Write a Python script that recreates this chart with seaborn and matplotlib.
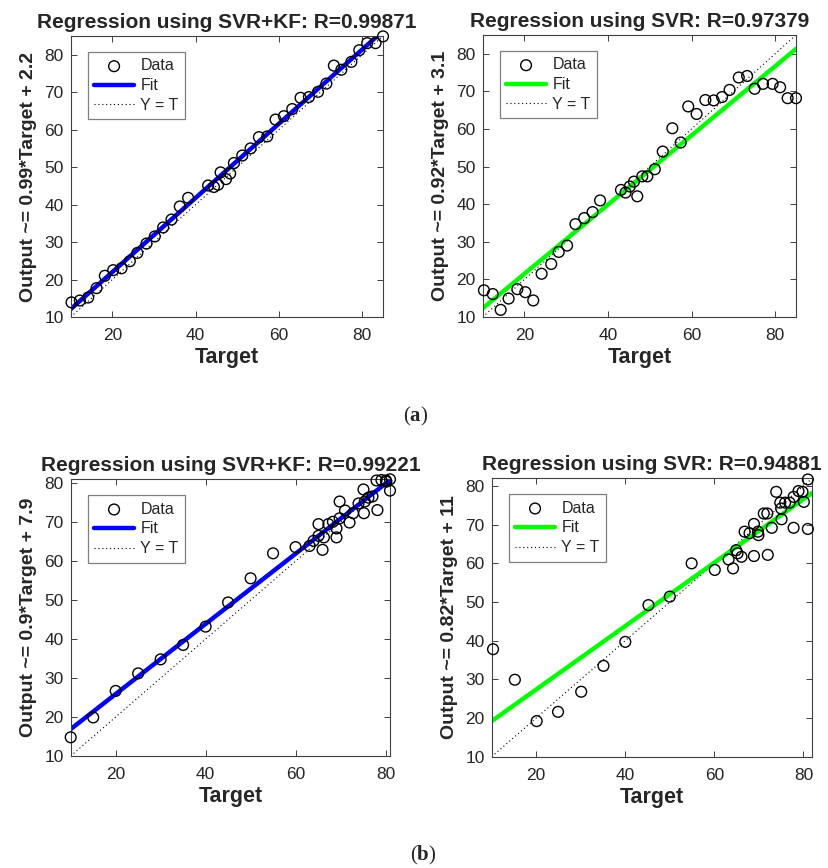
import numpy as np
import pandas as pd
import matplotlib
matplotlib.use('Agg')
import matplotlib.pyplot as plt
import seaborn as sns

# values
# (a) left: SVR+KF
a_kf_target = [10.2, 12.2, 14.2, 16.2, 18.2, 20.2, 22.2, 24.2, 26.0, 28.2, 30.2, 32.2, 34.2, 36.2,
               38.2, 43.0, 44.4, 45.4, 46.0, 47.3, 48.3, 49.2, 51.2, 53.2, 55.2, 57.2, 59.2, 61.2,
               63.2, 65.2, 67.2, 69.4, 71.4, 73.2, 75.0, 77.4, 79.3, 81.2, 83.2, 85.0]
a_kf_output = [13.9, 14.4, 15.2, 17.7, 21.0, 22.5, 23.0, 24.9, 27.1, 29.6, 31.5, 33.9, 36.0, 39.5,
               41.8, 45.1, 44.7, 45.3, 48.6, 46.8, 48.3, 51.1, 53.1, 55.0, 58.0, 58.2, 62.7, 63.6,
               65.5, 68.5, 68.7, 70.1, 72.3, 77.1, 76.0, 78.1, 81.2, 83.1, 83.1, 84.9]

# (a) right: SVR
a_svr_target = [10.3, 12.4, 14.3, 16.2, 18.3, 20.2, 22.1, 24.1, 26.4, 28.2, 30.2, 32.2, 34.3, 36.3,
                38.1, 43.1, 44.2, 45.2, 46.2, 47.0, 48.2, 49.4, 51.2, 53.1, 55.4, 57.4, 59.2, 61.2,
                63.3, 65.3, 67.3, 69.1, 71.3, 73.3, 75.1, 77.1, 79.4, 81.2, 83.0, 85.0]
a_svr_output = [17.1, 16.1, 11.9, 14.9, 17.4, 16.6, 14.4, 21.5, 24.1, 27.3, 29.0, 34.7, 36.3, 37.9,
                41.0, 43.8, 43.1, 44.7, 46.0, 42.1, 47.4, 47.4, 49.3, 54.0, 60.2, 56.4, 66.0, 64.0,
                67.7, 67.6, 68.5, 70.4, 73.7, 74.1, 70.7, 72.0, 72.0, 71.1, 68.2, 68.2]

# (b) left: SVR+KF
b_kf_target = [10, 15, 20, 25, 30, 35, 40, 45, 50, 55, 60, 63.1, 64.0, 65.1, 65.1, 66.0, 66.3, 67.3,
               68.3, 69.1, 69.1, 69.8, 69.8, 71.0, 72.0, 72.8, 74.0, 75.1, 75.2, 75.4, 76.2, 77.1,
               78.2, 78.0, 79.1, 80.1, 81.0, 81.0, 80.2]
b_kf_output = [14.8, 19.9, 26.7, 31.2, 34.8, 38.5, 43.2, 49.4, 55.6, 62.0, 63.6, 63.9, 65.2, 69.5,
               66.5, 62.9, 66.1, 69.5, 70.1, 68.4, 66.1, 75.3, 71.0, 73.0, 69.9, 72.3, 74.8, 78.4,
               72.3, 75.3, 76.3, 76.6, 73.1, 80.7, 80.8, 80.7, 81.0, 78.1, 80.4]

# (b) right: SVR
b_svr_target = [10.3, 15.2, 20.1, 24.9, 30.1, 35.1, 40.0, 45.2, 50.0, 54.9, 60.1, 63.2, 64.2, 64.9,
                65.2, 66.1, 66.8, 67.9, 68.9, 68.9, 69.8, 69.9, 71.1, 71.9, 72.0, 72.9, 73.9, 74.8,
                75.0, 75.1, 75.9, 76.9, 77.8, 77.8, 78.9, 79.8, 80.1, 81.0, 81.0]
b_svr_output = [37.8, 29.9, 19.2, 21.6, 26.8, 33.5, 39.7, 49.2, 51.4, 60.0, 58.3, 61.0, 58.7, 63.4,
                62.6, 61.7, 68.2, 67.8, 70.2, 61.9, 68.2, 67.3, 72.9, 72.9, 62.2, 69.2, 78.5, 75.7,
                74.2, 71.4, 75.7, 75.7, 77.2, 69.2, 78.7, 78.5, 75.9, 81.7, 68.9]

titles = ['Regression using SVR+KF: R=0.99871', 'Regression using SVR: R=0.97379',
          'Regression using SVR+KF: R=0.99221', 'Regression using SVR: R=0.94881']
fit_slopes = [0.99, 0.92, 0.9, 0.82]
fit_intercepts = [2.2, 3.1, 7.9, 11]
ylabels = ['Output ~= 0.99*Target + 2.2', 'Output ~= 0.92*Target + 3.1',
           'Output ~= 0.9*Target + 7.9', 'Output ~= 0.82*Target + 11']
axis_limits = [(10, 85), (10, 85), (10, 81), (10, 82)]
fit_colors = ['#0000ff', '#00ff00', '#0000ff', '#00ff00']

targets = [a_kf_target, a_svr_target, b_kf_target, b_svr_target]
outputs = [a_kf_output, a_svr_output, b_kf_output, b_svr_output]

sns.set_theme(style='ticks')
plt.rcParams['font.family'] = ['Liberation Sans', 'DejaVu Sans']
plt.rcParams['mathtext.fontset'] = 'custom'
plt.rcParams['mathtext.rm'] = 'Liberation Serif'
plt.rcParams['mathtext.bf'] = 'Liberation Serif:bold'

W, H = 829, 868
fig = plt.figure(figsize=(W / 100, H / 100), dpi=100)

# axes boxes in pixels: left, right, top, bottom
boxes = [(70.7, 383, 36, 317), (482.7, 796, 35, 317),
         (70.7, 390, 479.3, 756), (491.7, 812.3, 478.3, 756.7)]

edge = '#404040'
for i in range(4):
    l, r, t, b = boxes[i]
    ax = fig.add_axes([l / W, 1 - b / H, (r - l) / W, (b - t) / H])
    lo, hi = axis_limits[i]

    df = pd.DataFrame({'Target': targets[i], 'Output': outputs[i]})
    line_x = np.array([lo, hi])
    fit_df = pd.DataFrame({'x': line_x, 'y': fit_slopes[i] * line_x + fit_intercepts[i]})
    ident_df = pd.DataFrame({'x': line_x, 'y': line_x})

    sns.scatterplot(data=df, x='Target', y='Output', ax=ax, marker='o', s=60,
                    facecolor='none', edgecolor='black', linewidth=1.0, label='Data',
                    clip_on=False, zorder=3)
    sns.lineplot(data=fit_df, x='x', y='y', ax=ax, color=fit_colors[i], linewidth=3.2,
                 label='Fit', zorder=2)
    sns.lineplot(data=ident_df, x='x', y='y', ax=ax, color='black', linewidth=0.8,
                 linestyle=(0, (1, 2.5)), label='Y = T', zorder=1)

    ax.set_xlim(lo, hi)
    ax.set_ylim(lo, hi)
    ax.set_xticks([20, 40, 60, 80])
    ax.set_yticks([10, 20, 30, 40, 50, 60, 70, 80])
    ax.tick_params(direction='in', top=True, right=True, length=4, width=0.7,
                   color=edge, labelsize=12.5, labelcolor='#262626')
    ax.tick_params(axis='x', pad=8)
    ax.tick_params(axis='y', pad=5)
    for sp in ax.spines.values():
        sp.set_color(edge)
        sp.set_linewidth(0.8)

    ax.set_title(titles[i], fontsize=15, fontweight='bold', pad=6)
    ax.set_xlabel('Target', fontsize=15.5, fontweight='bold', labelpad=3)
    ax.set_ylabel(ylabels[i], fontsize=14, fontweight='bold', labelpad=5)

    leg = ax.legend(loc='upper left', bbox_to_anchor=(17 / (r - l), 1 - 16 / (b - t)),
                    borderaxespad=0, fontsize=11.5, handlelength=2.5, handletextpad=0.4,
                    labelspacing=0.3, borderpad=0.4, fancybox=False, framealpha=1,
                    edgecolor='#7f7f7f')
    leg.get_frame().set_linewidth(0.9)

fig.text(416 / W, 1 - 416 / H, r'$(\mathbf{a})$', fontsize=15, ha='center', va='center')
fig.text(423 / W, 1 - 855 / H, r'$(\mathbf{b})$', fontsize=15, ha='center', va='center')

fig.savefig('out.png', dpi=100)
